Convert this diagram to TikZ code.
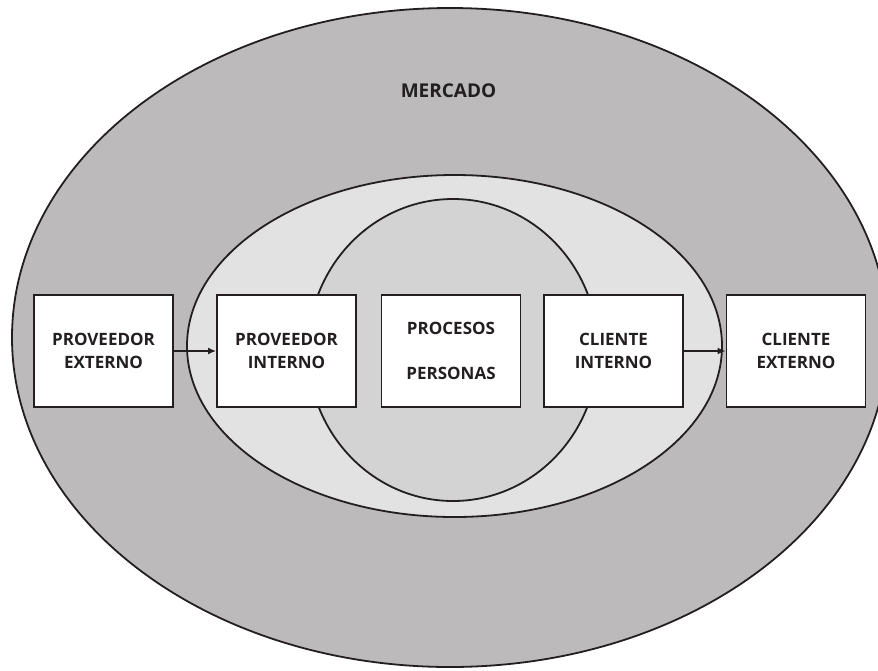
\documentclass[tikz,border=0pt]{standalone}
\usepackage{fontspec}
\setmainfont{Open Sans}
\usetikzlibrary{arrows.meta}
\definecolor{mercado}{RGB}{188,186,187}
\definecolor{empresa}{RGB}{226,226,226}
\definecolor{nucleo}{RGB}{211,211,211}
\definecolor{tinta}{RGB}{35,31,32}
\begin{document}
\begin{tikzpicture}[x=1pt,y=-1pt,
    line width=1.8pt, draw=tinta,
    caja/.style={draw=tinta, fill=white, minimum width=139pt, minimum height=112pt,
      align=center, text=tinta, font=\bfseries\fontsize{17}{22.5}\selectfont, inner sep=0pt},
    flecha/.style={-{Latex[length=8pt,width=7pt]}, draw=tinta}]
    \useasboundingbox (0,0) rectangle (878,670);
    \clip (0,0) rectangle (878,670);
    \draw [fill=mercado] (450,337.5) ellipse [x radius=438, y radius=329.5];
    \draw [fill=empresa] (454.5,346) ellipse [x radius=267.5, y radius=171];
    \draw [fill=nucleo] (453,350) ellipse [x radius=145, y radius=151];
    \node (mercado) [text=tinta, font=\bfseries\fontsize{19}{22}\selectfont] at (448.5,90.5) {MERCADO};
    \node (provext) [caja] at (103.5,351) {PROVEEDOR\\EXTERNO};
    \node (provint) [caja] at (286.5,351) {PROVEEDOR\\INTERNO};
    \node (procesos) [caja] at (451,351) {PROCESOS\\[23pt]PERSONAS};
    \node (cliint) [caja] at (613.5,351) {CLIENTE\\INTERNO};
    \node (cliext) [caja] at (796,351) {CLIENTE\\EXTERNO};
    \draw [flecha] (provext) -- (provint);
    \draw [flecha] (cliint) -- (cliext);
\end{tikzpicture}
\end{document}
